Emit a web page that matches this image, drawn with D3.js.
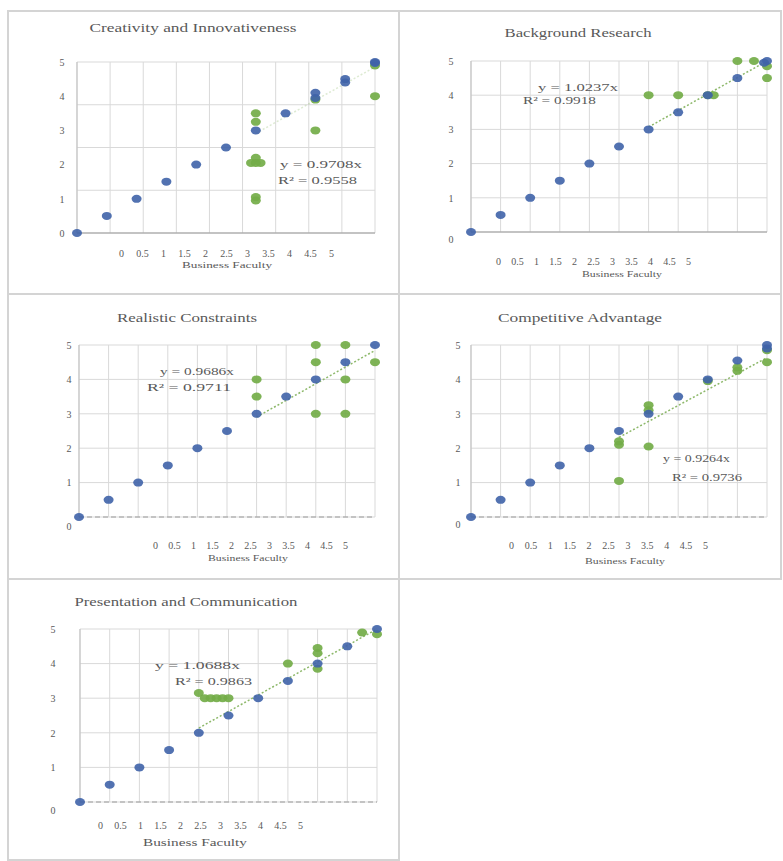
<!DOCTYPE html>
<html>
<head>
<meta charset="utf-8">
<script src="https://cdn.jsdelivr.net/npm/d3@7"></script>
<style>
  body { margin: 0; background: #fff; }
  svg text { font-family: "Liberation Serif", "DejaVu Serif", serif; fill: #595959; }
</style>
</head>
<body>
<svg id="chart" width="783" height="861"></svg>
<script>
// chart values
var panelTitles = ["Creativity and Innovativeness", "Background Research", "Realistic Constraints",
    "Competitive Advantage", "Presentation and Communication"];
var xAxisTitle = "Business Faculty";
var xTickLabels = ["0", "0.5", "1", "1.5", "2", "2.5", "3", "3.5", "4", "4.5", "5"];
var yTickValues = [0, 1, 2, 3, 4, 5];
var trendSlopes = [0.9708, 1.0237, 0.9686, 0.9264, 1.0688];
var rSquared = [0.9558, 0.9918, 0.9711, 0.9736, 0.9863];
var trendFrom = [3, 3, 3, 2.5, 2];
var trendTo = [5, 5, 5, 5, 5];

// blue series (faculty), [x, y]
var creativityBlue = [[0, 0], [0.5, 0.5], [1, 1], [1.5, 1.5], [2, 2], [2.5, 2.5], [3, 3], [3.5, 3.5],
    [4, 4.1], [4, 3.95], [4.5, 4.5], [4.5, 4.4], [5, 5], [5, 4.97]];
var backgroundBlue = [[0, 0], [0.5, 0.5], [1, 1], [1.5, 1.5], [2, 2], [2.5, 2.5], [3, 3], [3.5, 3.5],
    [4, 4], [4.5, 4.5], [5, 5], [4.95, 4.95]];
var realisticBlue = [[0, 0], [0.5, 0.5], [1, 1], [1.5, 1.5], [2, 2], [2.5, 2.5], [3, 3], [3.5, 3.5],
    [4, 4], [4.5, 4.5], [5, 5]];
var competitiveBlue = [[0, 0], [0.5, 0.5], [1, 1], [1.5, 1.5], [2, 2], [2.5, 2.5], [3, 3], [3.5, 3.5],
    [4, 4], [4.5, 4.55], [5, 5], [5, 4.9]];
var presentationBlue = [[0, 0], [0.5, 0.5], [1, 1], [1.5, 1.5], [2, 2], [2.5, 2.5], [3, 3], [3.5, 3.5],
    [4, 4], [4.5, 4.5], [5, 5]];

// green series (students), [x, y]
var creativityGreen = [[3, 3.5], [3, 3.25], [3, 2.2], [2.92, 2.05], [3, 2.05], [3.08, 2.05],
    [3, 1.05], [3, 0.95], [4, 3], [4, 3.9], [5, 4], [5, 4.9]];
var backgroundGreen = [[3, 4], [3.5, 4], [4, 4], [4.1, 4], [4.5, 5], [4.78, 5], [5, 4.85], [5, 4.5]];
var realisticGreen = [[3, 4], [3, 3.5], [4, 5], [4, 4.5], [4, 3], [4.5, 5], [4.5, 4], [4.5, 3], [5, 4.5]];
var competitiveGreen = [[2.5, 2.1], [2.5, 2.2], [2.5, 1.05], [3, 3.25], [3, 3.1], [3, 2.05],
    [4, 3.95], [4.5, 4.25], [4.5, 4.35], [5, 4.5], [5, 4.85]];
var presentationGreen = [[2, 3.15], [2.1, 3], [2.2, 3], [2.3, 3], [2.4, 3], [2.5, 3], [3.5, 4],
    [4, 4.45], [4, 4.3], [4, 3.85], [4.75, 4.9], [5, 4.85]];

var blueSeries = [creativityBlue, backgroundBlue, realisticBlue, competitiveBlue, presentationBlue];
var greenSeries = [creativityGreen, backgroundGreen, realisticGreen, competitiveGreen, presentationGreen];

// layout, page pixels
var layout = [
    {box: [8, 11, 399, 294], l: 77, r: 375, t: 62, b: 233, xGrid: 9, yGrid: 4,
     title: [193, 32, 207], tickRow: [121, 331, 254], axisTitle: [227, 268, 90, 8],
     eq: [280, 168, 82], r2: [278, 184, 79], yLab: -15, zeroDrop: 0, dashedBase: false, trendAlpha: 0.3},
    {box: [399, 11, 781, 294], l: 471, r: 767, t: 61, b: 232, xGrid: 10, yGrid: 5,
     title: [578, 37, 147], tickRow: [498, 688, 262], axisTitle: [622, 277, 80, 8],
     eq: [538, 91, 80], r2: [523, 104, 73], yLab: -20, zeroDrop: 7, dashedBase: false, trendAlpha: 1},
    {box: [8, 294, 399, 579], l: 79, r: 375, t: 345, b: 517, xGrid: 10, yGrid: 5,
     title: [187, 322, 140], tickRow: [155, 345, 546], axisTitle: [248, 561, 80, 8],
     eq: [160, 375, 74], r2: [147, 391, 84], yLab: -10, zeroDrop: 9, dashedBase: true, trendAlpha: 1},
    {box: [399, 294, 781, 579], l: 471, r: 767, t: 345, b: 517, xGrid: 10, yGrid: 5,
     title: [580, 322, 164], tickRow: [511, 705, 546], axisTitle: [625, 564, 80, 8],
     eq: [663, 462, 67], r2: [672, 481, 70], yLab: -13, zeroDrop: 7, dashedBase: true, trendAlpha: 1},
    {box: [8, 579, 399, 860], l: 80, r: 377, t: 629, b: 802, xGrid: 10, yGrid: 5,
     title: [186, 606, 223], tickRow: [100, 300, 826], axisTitle: [195, 846, 104, 11],
     eq: [155, 669, 85], r2: [175, 685, 77], yLab: -27, zeroDrop: 8, dashedBase: true, trendAlpha: 1}
];

var blueColor = "#3f63a8";
var greenColor = "#73ad48";
var serif = "'Liberation Serif', 'DejaVu Serif', serif";

var svg = d3.select("#chart");

layout.forEach(function(p, i) {
    var g = svg.append("g");

    // panel frame
    g.append("rect")
        .attr("x", p.box[0]).attr("y", p.box[1])
        .attr("width", p.box[2] - p.box[0]).attr("height", p.box[3] - p.box[1])
        .attr("fill", "none").attr("stroke", "#d4d4d4").attr("stroke-width", 2);

    var x = d3.scaleLinear().domain([0, 5]).range([p.l, p.r]);
    var y = d3.scaleLinear().domain([0, 5]).range([p.b, p.t]);

    // grid
    var gx = d3.range(p.xGrid + 1).map(function(k) { return 5 * k / p.xGrid; });
    var gy = d3.range(p.yGrid + 1).map(function(k) { return 5 * k / p.yGrid; });
    g.selectAll(".vg").data(gx).enter().append("line")
        .attr("x1", function(d) { return x(d); }).attr("x2", function(d) { return x(d); })
        .attr("y1", p.t).attr("y2", p.b)
        .attr("stroke", "#d9d9d9").attr("stroke-width", 1);
    g.selectAll(".hg").data(gy).enter().append("line")
        .attr("x1", p.l).attr("x2", p.r)
        .attr("y1", function(d) { return y(d); }).attr("y2", function(d) { return y(d); })
        .attr("stroke", "#d9d9d9").attr("stroke-width", 1);

    // axis lines
    g.append("line").attr("x1", p.l).attr("x2", p.l).attr("y1", p.t).attr("y2", p.b)
        .attr("stroke", "#bfbfbf");
    g.append("line").attr("x1", p.l).attr("x2", p.r).attr("y1", p.b).attr("y2", p.b)
        .attr("stroke", "#9a9a9a").attr("stroke-width", 1.2)
        .attr("stroke-dasharray", p.dashedBase ? "5,3" : null);

    // y axis labels
    var yAxis = g.append("g")
        .attr("transform", "translate(" + (p.l + p.yLab) + ",0)")
        .call(d3.axisLeft(y).tickValues(yTickValues).tickFormat(d3.format("d"))
            .tickSize(0).tickPadding(0));
    yAxis.attr("font-family", serif).attr("font-size", 10);
    yAxis.select(".domain").remove();
    yAxis.selectAll("text")
        .attr("text-anchor", "middle")
        .attr("dy", function(d) { return d === 0 ? (0.32 + p.zeroDrop / 10) + "em" : "0.32em"; });

    // x tick label row
    var xp = d3.scalePoint().domain(xTickLabels).range([p.tickRow[0], p.tickRow[1]]);
    var xAxis = g.append("g")
        .attr("transform", "translate(0," + p.tickRow[2] + ")")
        .call(d3.axisBottom(xp).tickSize(0).tickPadding(0));
    xAxis.attr("font-family", serif).attr("font-size", 10);
    xAxis.select(".domain").remove();
    xAxis.selectAll("text").attr("dy", "0.32em");

    // axis title
    g.append("text")
        .attr("x", p.axisTitle[0]).attr("y", p.axisTitle[1])
        .attr("text-anchor", "middle")
        .attr("font-size", p.axisTitle[3])
        .attr("textLength", p.axisTitle[2]).attr("lengthAdjust", "spacingAndGlyphs")
        .text(xAxisTitle);

    // title
    g.append("text")
        .attr("x", p.title[0]).attr("y", p.title[1])
        .attr("text-anchor", "middle")
        .attr("font-size", 12)
        .attr("textLength", p.title[2]).attr("lengthAdjust", "spacingAndGlyphs")
        .text(panelTitles[i]);

    // trendline
    var tx = [trendFrom[i], trendTo[i]];
    var line = d3.line()
        .x(function(d) { return x(d); })
        .y(function(d) { return y(Math.min(5, trendSlopes[i] * d)); });
    g.append("path")
        .attr("d", line(tx))
        .attr("fill", "none")
        .attr("stroke", "#8db86a")
        .attr("stroke-opacity", p.trendAlpha)
        .attr("stroke-width", 1.5)
        .attr("stroke-dasharray", "2,2");

    // points
    g.selectAll(".green").data(greenSeries[i]).enter().append("ellipse")
        .attr("cx", function(d) { return x(d[0]); })
        .attr("cy", function(d) { return y(d[1]); })
        .attr("rx", 5).attr("ry", 4)
        .attr("fill", greenColor).attr("fill-opacity", 0.92);
    g.selectAll(".blue").data(blueSeries[i]).enter().append("ellipse")
        .attr("cx", function(d) { return x(d[0]); })
        .attr("cy", function(d) { return y(d[1]); })
        .attr("rx", 5).attr("ry", 4)
        .attr("fill", blueColor).attr("fill-opacity", 0.9);

    // trend equation
    g.append("text")
        .attr("x", p.eq[0]).attr("y", p.eq[1])
        .attr("font-size", 11)
        .attr("textLength", p.eq[2]).attr("lengthAdjust", "spacingAndGlyphs")
        .text("y = " + trendSlopes[i].toFixed(4) + "x");
    g.append("text")
        .attr("x", p.r2[0]).attr("y", p.r2[1])
        .attr("font-size", 11)
        .attr("textLength", p.r2[2]).attr("lengthAdjust", "spacingAndGlyphs")
        .text("R\u00b2 = " + rSquared[i].toFixed(4));
});
</script>
</body>
</html>
